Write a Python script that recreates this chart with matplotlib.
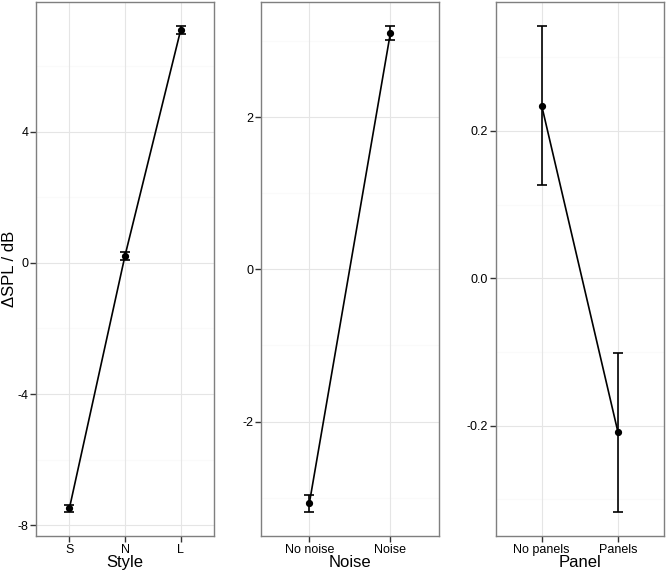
import matplotlib
matplotlib.use("Agg")
import matplotlib.pyplot as plt
import numpy as np

plt.rcParams['font.family'] = ['Liberation Sans', 'DejaVu Sans']

style_levels = ["S", "N", "L"]
style_mean = [-7.49, 0.22, 7.10]
style_se = [0.10, 0.12, 0.12]

noise_levels = ["No noise", "Noise"]
noise_mean = [-3.075, 3.105]
noise_se = [0.11, 0.09]

panel_levels = ["No panels", "Panels"]
panel_mean = [0.234, -0.209]
panel_se = [0.108, 0.108]

titles = ["Style", "Noise", "Panel"]
yticks = [[-8, -4, 0, 4], [-2, 0, 2], [-0.2, 0.0, 0.2]]
yfmt = ["{:.0f}", "{:.0f}", "{:.1f}"]
minor = [[-6, -2, 2, 6], [-3, -1, 1, 3], [-0.3, -0.1, 0.1, 0.3]]

fig = plt.figure(figsize=(6.66, 5.73), dpi=100)
boxes = [[36, 178], [260.7, 178.3], [496, 167.7]]
data = [(style_levels, style_mean, style_se),
        (noise_levels, noise_mean, noise_se),
        (panel_levels, panel_mean, panel_se)]

for i, ((levels, mean, se), (x0, w)) in enumerate(zip(data, boxes)):
    ax = fig.add_axes([x0 / 666, 1 - 536 / 573, w / 666, 534 / 573])
    x = np.arange(len(levels))
    mean = np.array(mean)
    se = np.array(se)
    ax.plot(x, mean, color="black", lw=1.2, zorder=3)
    ax.errorbar(x, mean, yerr=se, fmt="o", color="black", ms=4.2,
                capsize=3.5, elinewidth=1.2, capthick=1.2, zorder=4)
    lo = (mean - se).min()
    hi = (mean + se).max()
    pad = (hi - lo) * 0.05
    ax.set_ylim(lo - pad, hi + pad)
    ax.set_xlim(-0.6, len(levels) - 0.4)
    ax.set_xticks(x)
    ax.set_xticklabels(levels)
    ax.set_yticks(yticks[i])
    ax.set_yticklabels([yfmt[i].format(v) for v in yticks[i]])
    for m in minor[i]:
        ax.axhline(m, color="#fafafa", lw=0.8, zorder=0)
    ax.grid(True, color="#e5e5e5", lw=0.8, zorder=0)
    ax.set_axisbelow(True)
    for s in ax.spines.values():
        s.set_color("#7f7f7f")
        s.set_linewidth(1.0)
    ax.tick_params(length=4, width=1.0, color="#333333", labelsize=9,
                   labelcolor="black", pad=1.5)
    ax.set_xlabel(titles[i], fontsize=12, labelpad=-0.5)
    if i == 0:
        ax.set_ylabel("ΔSPL / dB", fontsize=12)
        ax.yaxis.set_label_coords(-0.105, 0.5)

fig.savefig("out.png", dpi=100)
